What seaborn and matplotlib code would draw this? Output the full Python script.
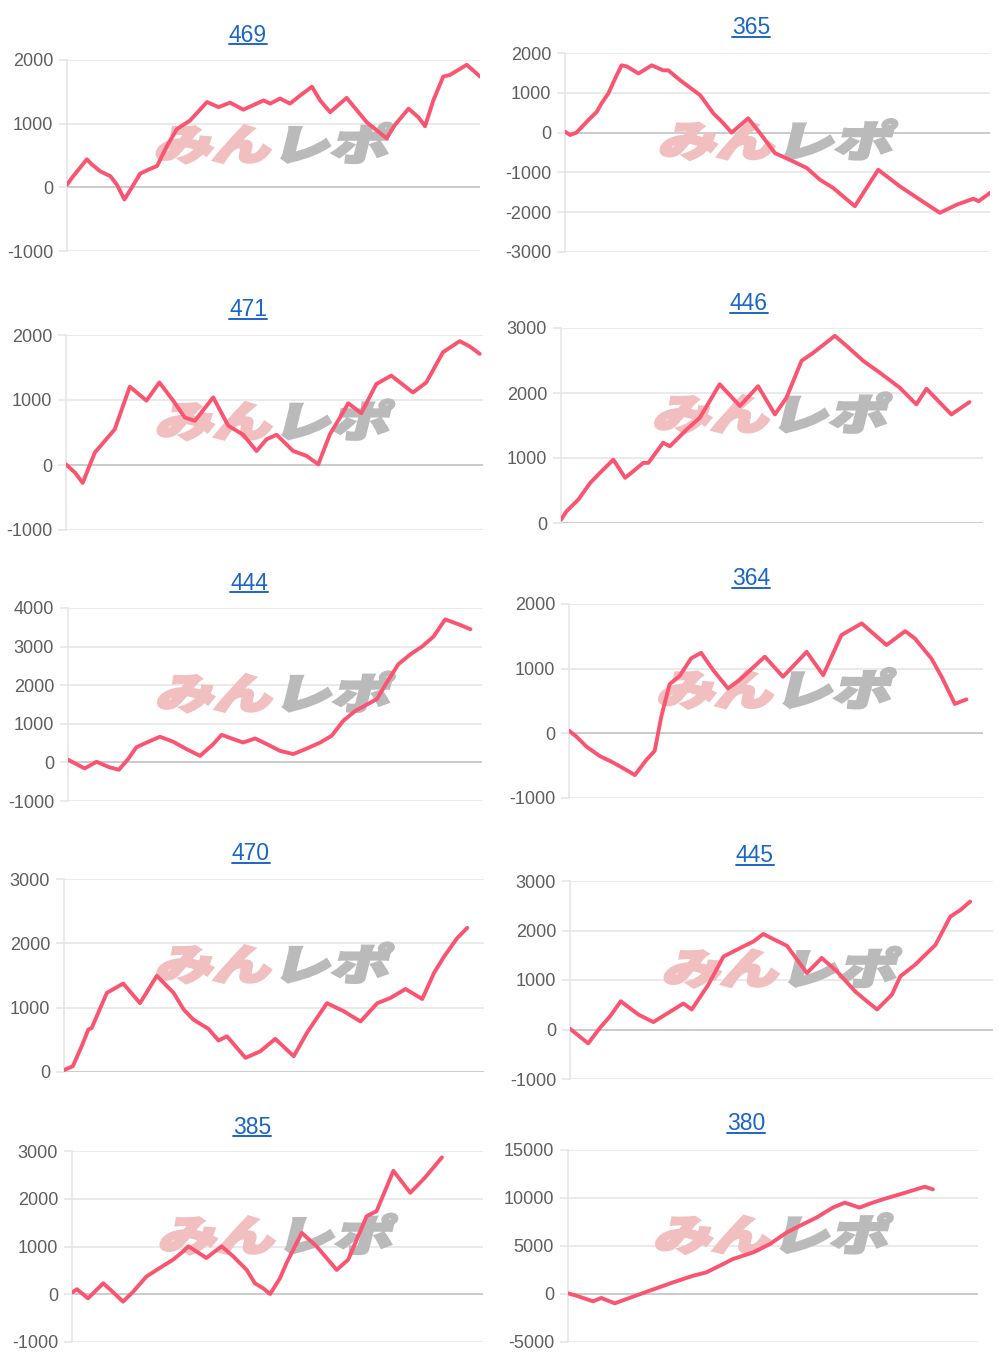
import numpy as np
import pandas as pd
import matplotlib.pyplot as plt
import seaborn as sns
from matplotlib.textpath import TextPath
from matplotlib.patches import PathPatch
from matplotlib.font_manager import FontProperties
from matplotlib.transforms import Affine2D, IdentityTransform
from matplotlib.lines import Line2D

# machine numbers (chart titles), left column first row by row
titles = ["469", "365", "471", "446", "444", "364", "470", "445", "385", "380"]

# x = progress through the day (0-100), y = cumulative difference
x_469 = [0, 1.2, 4.8, 6.0, 8.1, 10.5, 12.1, 13.9, 16.1, 17.7, 19.8, 21.8, 24.2, 26.6, 29.8, 33.9, 36.7,
         39.5, 42.7, 47.6, 49.2, 51.6, 54.0, 56.5, 59.3, 61.3, 63.7, 67.7, 70.2, 72.6, 77.4, 79.4, 82.7,
         85.1, 86.7, 88.7, 91.1, 92.7, 96.8, 100]
y_469 = [40, 150, 440, 360, 250, 175, 40, -190, 40, 215, 280, 335, 650, 915, 1050, 1340, 1260,
         1330, 1220, 1365, 1315, 1395, 1315, 1445, 1580, 1365, 1180, 1405, 1210, 1020, 770, 980, 1235,
         1100, 960, 1365, 1740, 1765, 1925, 1740]

x_365 = [0, 1.2, 2.7, 5.5, 7.5, 8.6, 10.2, 11.8, 13.3, 14.5, 17.3, 20.4, 23.1, 24.3, 27.1, 31.8, 34.9,
         36.9, 39.2, 43.1, 45.9, 49.4, 52.9, 56.9, 60.0, 63.1, 68.2, 70.2, 73.7, 78.8, 83.5, 88.2, 92.2,
         96.1, 97.3, 100]
y_365 = [25, -60, 0, 315, 525, 735, 985, 1360, 1690, 1665, 1485, 1690, 1565, 1565, 1315, 940, 485,
         275, 0, 360, -15, -515, -685, -890, -1185, -1390, -1850, -1515, -935, -1350, -1685, -2015, -1810,
         -1660, -1725, -1515]

x_471 = [0, 2.2, 4.0, 6.9, 9.3, 11.7, 15.3, 19.3, 22.4, 25.7, 28.5, 30.9, 35.3, 38.9, 42.5, 45.7, 48.1,
         50.5, 54.5, 57.7, 60.5, 63.3, 65.7, 67.7, 70.8, 74.4, 78.0, 83.2, 86.4, 90.4, 94.4, 96.8, 99.2]
y_471 = [10, -120, -275, 190, 370, 550, 1205, 990, 1270, 990, 730, 680, 1040, 605, 465, 215, 395,
         465, 215, 140, 10, 475, 730, 950, 795, 1245, 1375, 1115, 1270, 1735, 1905, 1825, 1710]

x_446 = [0, 1.3, 4.1, 6.9, 9.2, 12.4, 15.2, 17.1, 19.5, 20.7, 24.2, 25.8, 29.8, 32.9, 37.6, 42.4, 46.7,
         50.7, 53.4, 57.0, 59.8, 64.9, 68.1, 71.6, 75.5, 80.3, 84.2, 86.6, 92.5, 96.8]
y_446 = [50, 180, 360, 615, 770, 975, 695, 795, 925, 925, 1235, 1180, 1440, 1620, 2135, 1800, 2105,
         1670, 1925, 2495, 2620, 2880, 2700, 2495, 2315, 2080, 1825, 2065, 1670, 1860]

x_444 = [0, 4.0, 6.9, 10.1, 12.3, 14.5, 16.5, 19.0, 22.2, 25.4, 28.6, 31.9, 35.1, 37.1, 39.9, 42.3, 45.2,
         48.0, 51.2, 54.4, 57.7, 60.9, 63.7, 66.5, 69.4, 74.6, 77.0, 79.8, 82.7, 85.5, 88.3, 91.1, 94.4, 97.2]
y_444 = [70, -155, 15, -130, -190, 85, 390, 515, 665, 535, 345, 170, 475, 715, 605, 515, 620,
         475, 300, 215, 360, 515, 690, 1080, 1335, 1640, 2070, 2545, 2800, 3000, 3260, 3705, 3575, 3450]

x_364 = [0, 1.8, 4.2, 7.4, 10.6, 13.8, 15.9, 18.7, 20.7, 22.3, 24.3, 26.7, 29.5, 31.9, 34.8, 38.4, 41.2,
         47.3, 51.7, 57.4, 61.4, 65.8, 70.7, 76.7, 81.2, 83.5, 87.5, 90.0, 93.2, 96.0]
y_364 = [40, -50, -205, -350, -450, -565, -645, -410, -270, 260, 760, 885, 1160, 1245, 980, 695, 825,
         1185, 875, 1260, 900, 1520, 1700, 1365, 1580, 1470, 1160, 875, 455, 525]

x_470 = [0, 2.1, 4.2, 5.8, 6.6, 10.2, 14.1, 18.1, 22.1, 26.1, 28.5, 30.8, 34.4, 36.8, 38.8, 43.2, 46.7,
         50.3, 54.7, 57.9, 62.6, 66.6, 70.6, 74.6, 77.7, 81.3, 85.3, 88.1, 90.5, 93.6, 96.0]
y_470 = [30, 90, 400, 660, 685, 1230, 1375, 1070, 1495, 1230, 970, 815, 670, 490, 555, 220, 320,
         515, 245, 615, 1070, 945, 785, 1070, 1150, 1290, 1135, 1540, 1795, 2080, 2240]

x_445 = [0, 2.4, 4.3, 7.1, 9.5, 12.0, 16.2, 19.7, 21.3, 26.8, 28.8, 32.7, 36.3, 40.2, 43.4, 45.7, 48.1,
         51.3, 56.0, 59.5, 63.1, 67.4, 70.2, 72.6, 76.1, 78.1, 81.6, 86.4, 89.9, 92.3, 94.6]
y_445 = [15, -150, -280, 35, 270, 570, 300, 150, 235, 525, 405, 905, 1475, 1645, 1780, 1930, 1825,
         1690, 1140, 1445, 1175, 770, 570, 405, 705, 1075, 1310, 1710, 2280, 2415, 2585]

x_385 = [0, 1.2, 3.9, 7.6, 9.6, 12.4, 14.9, 18.1, 20.6, 24.6, 27.1, 28.3, 32.7, 36.4, 39.2, 42.5, 44.5,
         46.5, 48.2, 50.6, 52.2, 55.9, 59.5, 64.4, 67.2, 71.7, 74.1, 78.2, 82.3, 85.9, 90.0]
y_385 = [35, 105, -85, 230, 75, -155, 55, 370, 510, 725, 900, 1005, 760, 1005, 795, 510, 230,
         125, 5, 335, 655, 1285, 1005, 510, 725, 1635, 1740, 2585, 2125, 2445, 2865]

x_380 = [0, 2.0, 6.1, 8.1, 11.4, 15.9, 19.9, 25.6, 30.5, 33.7, 37.0, 40.2, 45.1, 49.2, 53.3, 56.5, 60.6,
         64.6, 67.5, 71.1, 73.6, 76.8, 80.9, 84.1, 87.0, 89.0]
y_380 = [70, -170, -760, -415, -970, -275, 345, 1210, 1900, 2250, 2940, 3635, 4325, 5190, 6400, 7095, 7960,
         9000, 9515, 9000, 9410, 9860, 10380, 10795, 11175, 10900]

series = [(x_469, y_469), (x_365, y_365), (x_471, y_471), (x_446, y_446), (x_444, y_444),
          (x_364, y_364), (x_470, y_470), (x_445, y_445), (x_385, y_385), (x_380, y_380)]

y_ticks = [
    [-1000, 0, 1000, 2000],
    [-3000, -2000, -1000, 0, 1000, 2000],
    [-1000, 0, 1000, 2000],
    [0, 1000, 2000, 3000],
    [-1000, 0, 1000, 2000, 3000, 4000],
    [-1000, 0, 1000, 2000],
    [0, 1000, 2000, 3000],
    [-1000, 0, 1000, 2000, 3000],
    [-1000, 0, 1000, 2000, 3000],
    [-5000, 0, 5000, 10000, 15000],
]

# layout in pixels: axes box (left, top, right, bottom) and title baseline (x, y)
W, H = 1000, 1362
boxes = [(67, 60, 480, 251), (565, 53, 990, 252), (66, 335, 483, 530), (561, 328, 983, 523),
         (68, 608, 482, 801), (569, 604, 983, 798), (64, 879, 484, 1072), (570, 881, 993, 1079),
         (72, 1151, 483, 1342), (568, 1150, 978, 1342)]
title_pos = [(248, 41.5), (751, 34.5), (248, 316.5), (749, 310.5), (249, 589.5), (751, 585.5),
             (251, 860.5), (755, 862.5), (252, 1133.5), (746, 1130.5)]

line_color = "#fa5470"
grid_color = "#e4e4e4"
zero_color = "#bdbdbd"
link_blue = "#1b66c9"
logo_pink = "#f1bfbf"
logo_gray = "#bababa"

sns.set_theme(style="white")
plt.rcParams["font.family"] = ["Liberation Sans", "DejaVu Sans"]
plt.rcParams["axes.unicode_minus"] = False

fig = plt.figure(figsize=(W / 100, H / 100), dpi=100)
fig.patch.set_facecolor("white")

jp_font = FontProperties(family="Noto Sans CJK JP", weight="black")


def add_watermark(ax):
    # "みんレポ" logo, pink + gray, slanted, centred in the plot area
    cx, cy = ax.transAxes.transform((0.5, 0.565))
    total_w, total_h = 228, 40
    full = TextPath((0, 0), "みんレポ", size=100, prop=jp_font)
    ext = full.get_extents()
    sx = total_w / ext.width
    sy = total_h / ext.height
    gap = TextPath((0, 0), "みん", size=100, prop=jp_font).get_extents().x1 + 6
    for txt, col, off in [("みん", logo_pink, 0), ("レポ", logo_gray, gap)]:
        p = TextPath((off, 0), txt, size=100, prop=jp_font)
        tr = (Affine2D().translate(-ext.x0 - ext.width / 2, -ext.y0 - ext.height / 2)
              .scale(sx, sy).skew_deg(14, 0).translate(cx, cy))
        patch = PathPatch(p, facecolor=col, edgecolor=col, linewidth=2.2,
                          joinstyle="miter", transform=tr + IdentityTransform(), zorder=1)
        patch.set_clip_on(False)
        ax.add_artist(patch)


axes = []
for i, ((xs, ys), ticks, box) in enumerate(zip(series, y_ticks, boxes)):
    l, t, r, b = box
    ax = fig.add_axes([l / W, 1 - b / H, (r - l) / W, (b - t) / H])
    df = pd.DataFrame({"x": xs, "y": ys})
    sns.lineplot(data=df, x="x", y="y", ax=ax, color=line_color, linewidth=2.8,
                 zorder=3, solid_joinstyle="round", solid_capstyle="round")
    ax.set_xlim(0, 100)
    ax.set_ylim(ticks[0], ticks[-1])
    ax.set_yticks(ticks)
    ax.set_yticklabels([str(v) for v in ticks])
    ax.set_xticks([])
    ax.set_xlabel("")
    ax.set_ylabel("")
    for v in ticks:
        ax.axhline(v, color=zero_color if v == 0 else grid_color, lw=1.1, zorder=0)
    for s in ["top", "right", "bottom"]:
        ax.spines[s].set_visible(False)
    ax.spines["left"].set_color(grid_color)
    ax.spines["left"].set_linewidth(1.1)
    ax.tick_params(axis="y", length=6, width=1.1, color=grid_color, pad=4,
                   labelsize=13, labelcolor="#5f5f5f", left=True)
    ax.patch.set_alpha(0)
    axes.append(ax)

fig.canvas.draw()
for ax in axes:
    add_watermark(ax)

title_texts = []
for name, (tx, ty) in zip(titles, title_pos):
    tt = fig.text(tx / W, 1 - ty / H, name, ha="center", va="baseline",
                  fontsize=16.5, color=link_blue)
    title_texts.append((tt, ty))

fig.canvas.draw()
renderer = fig.canvas.get_renderer()
for tt, ty in title_texts:
    bb = tt.get_window_extent(renderer)
    yy = H - ty - 2.5
    fig.add_artist(Line2D([bb.x0, bb.x1], [yy, yy], transform=IdentityTransform(),
                          color=link_blue, lw=1.4))

fig.savefig("out.png", dpi=100, facecolor="white")
